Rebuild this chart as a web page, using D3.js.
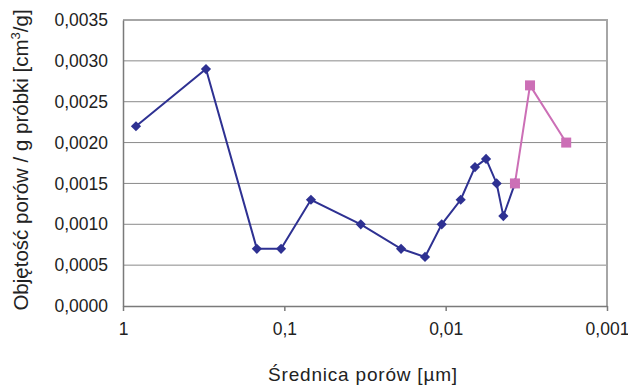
<!DOCTYPE html>
<html>
<head>
<meta charset="utf-8">
<script src="https://cdn.jsdelivr.net/npm/d3@7"></script>
<style>
  html, body { margin: 0; padding: 0; background: #fff; }
  svg { display: block; }
  text { font-family: "Liberation Sans", Arial, sans-serif; fill: #222; }
</style>
</head>
<body>
<svg id="chart" width="628" height="385"></svg>
<script>
// Pore diameter [µm] and pore volume per gram of sample [cm³/g]
const diamA = [0.831, 0.306, 0.148, 0.1048, 0.0684, 0.0336, 0.0189, 0.01343, 0.01058, 0.00807, 0.00658, 0.00562, 0.00483, 0.00439, 0.00372];
const volA  = [0.0022, 0.0029, 0.0007, 0.0007, 0.0013, 0.0010, 0.0007, 0.0006, 0.0010, 0.0013, 0.0017, 0.0018, 0.0015, 0.0011, 0.0015];
const diamB = [0.00372, 0.0030, 0.00179];
const volB  = [0.0015, 0.0027, 0.0020];
const xTicks = [1, 0.1, 0.01, 0.001];
const yTicks = [0, 0.0005, 0.0010, 0.0015, 0.0020, 0.0025, 0.0030, 0.0035];

const svg = d3.select("#chart");
const m = { left: 123, top: 20, right: 607, bottom: 306 };

const x = d3.scaleLog().domain([1, 0.001]).range([m.left, m.right]);
const y = d3.scaleLinear().domain([0, 0.0035]).range([m.bottom, m.top]);

const fmtY = d => d3.format(".4f")(d).replace(".", ",");
const fmtX = d => String(d).replace(".", ",");

// horizontal gridlines
svg.append("g")
  .selectAll("line")
  .data(yTicks.slice(1, -1))
  .join("line")
  .attr("x1", m.left).attr("x2", m.right)
  .attr("y1", d => y(d)).attr("y2", d => y(d))
  .attr("stroke", "#8a8a8a").attr("stroke-width", 1);

// plot area frame (top and right)
svg.append("path")
  .attr("d", `M${m.left},${y(0.0035)}H${m.right}V${m.bottom}`)
  .attr("fill", "none").attr("stroke", "#a6a6a6").attr("stroke-width", 2);

// y axis
const yAxis = svg.append("g")
  .attr("transform", `translate(${m.left},0)`)
  .call(d3.axisLeft(y).tickValues(yTicks).tickFormat(fmtY).tickSize(0).tickPadding(15));
yAxis.select(".domain").attr("stroke", "#7a7a7a").attr("stroke-width", 1.5);
yAxis.selectAll("text").attr("font-size", 17.5).attr("fill", "#222")
  .attr("font-family", "'Liberation Sans', Arial, sans-serif");

// x axis
const xAxis = svg.append("g")
  .attr("transform", `translate(0,${m.bottom})`)
  .call(d3.axisBottom(x).tickValues(xTicks).tickFormat(fmtX).tickSizeInner(5).tickSizeOuter(0).tickPadding(12));
xAxis.select(".domain").attr("stroke", "#7a7a7a").attr("stroke-width", 1.5);
xAxis.selectAll(".tick line").attr("stroke", "#7a7a7a").attr("stroke-width", 1.5);
xAxis.selectAll("text").attr("font-size", 17.5).attr("fill", "#222")
  .attr("font-family", "'Liberation Sans', Arial, sans-serif");

// series lines
const line = d3.line().x(d => x(d[0])).y(d => y(d[1]));
const ptsA = d3.zip(diamA, volA);
const ptsB = d3.zip(diamB, volB);

svg.append("path").datum(ptsA).attr("d", line)
  .attr("fill", "none").attr("stroke", "#2e3192").attr("stroke-width", 2);
svg.append("path").datum(ptsB).attr("d", line)
  .attr("fill", "none").attr("stroke", "#cc6fb6").attr("stroke-width", 2);

// diamond markers
svg.append("g").selectAll("path").data(ptsA).join("path")
  .attr("d", d3.symbol(d3.symbolSquare, 52))
  .attr("transform", d => `translate(${x(d[0])},${y(d[1])}) rotate(45)`)
  .attr("fill", "#2e3192");

// square markers
svg.append("g").selectAll("rect").data(ptsB).join("rect")
  .attr("x", d => x(d[0]) - 5).attr("y", d => y(d[1]) - 5)
  .attr("width", 10).attr("height", 10)
  .attr("fill", "#cc6fb6");

// axis titles
const yTitle = svg.append("text")
  .attr("transform", `translate(28,160) rotate(-90)`)
  .attr("text-anchor", "middle")
  .attr("font-size", 20.5)
  .attr("font-family", "'Liberation Sans', Arial, sans-serif");
yTitle.append("tspan").text("Objętość porów / g próbki [cm");
yTitle.append("tspan").attr("dy", -8).attr("font-size", 13).text("3");
yTitle.append("tspan").attr("dy", 8).text("/g]");

svg.append("text")
  .attr("x", (m.left + m.right) / 2 - 2)
  .attr("y", 381)
  .attr("text-anchor", "middle")
  .attr("font-size", 19)
  .attr("letter-spacing", 0.8)
  .attr("font-family", "'Open Sans', sans-serif")
  .text("Średnica porów [µm]");
</script>
</body>
</html>
